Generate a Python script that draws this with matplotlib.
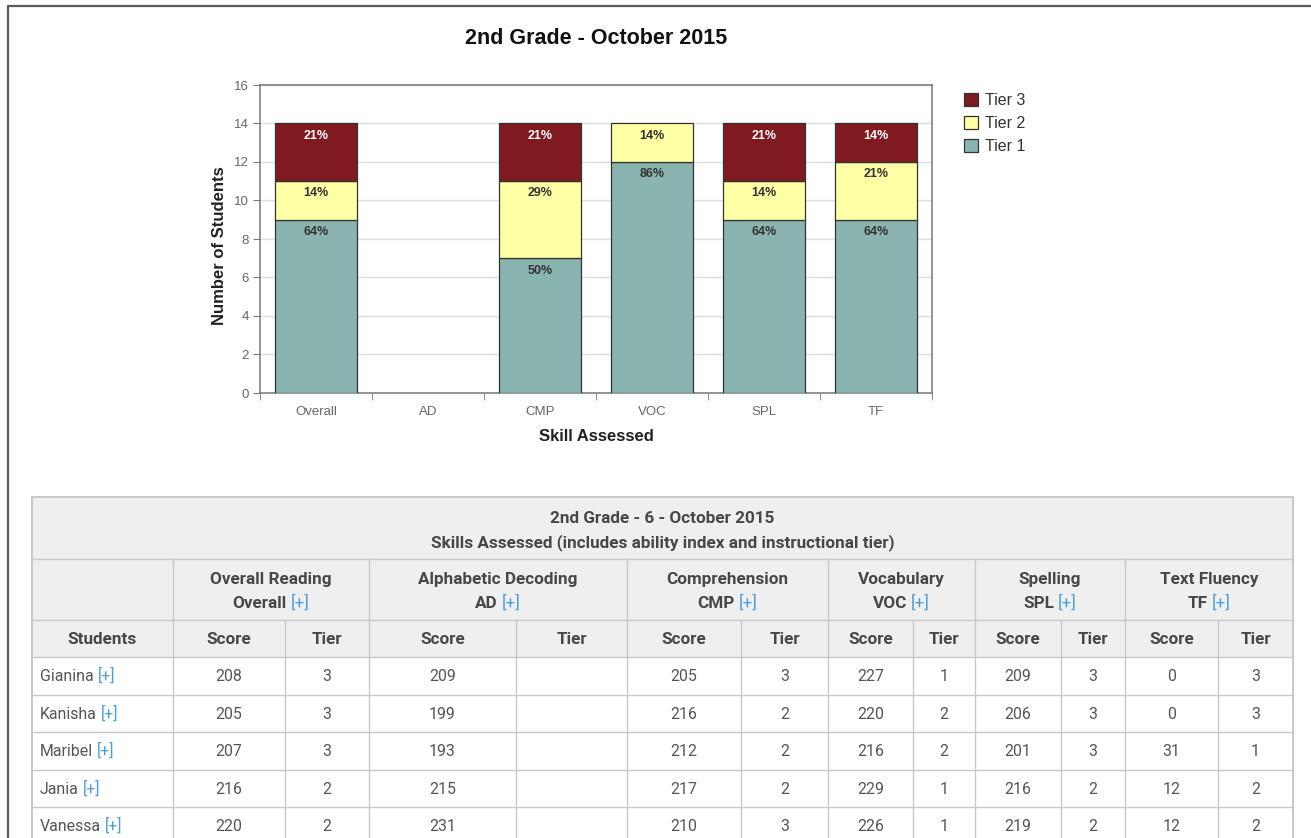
import matplotlib
matplotlib.use('Agg')
import matplotlib.pyplot as plt
from matplotlib.patches import Rectangle
from matplotlib.lines import Line2D
import numpy as np

# ---- chart data ----
skills = ['Overall', 'AD', 'CMP', 'VOC', 'SPL', 'TF']
tier1 = [9, 0, 7, 12, 9, 9]
tier2 = [2, 0, 4, 2, 2, 3]
tier3 = [3, 0, 3, 0, 3, 2]
tier_names = ['Tier 1', 'Tier 2', 'Tier 3']
chart_title = '2nd Grade - October 2015'

# ---- table data ----
table_title = '2nd Grade - 6 - October 2015'
table_subtitle = 'Skills Assessed (includes ability index and instructional tier)'
skill_names = ['Overall Reading', 'Alphabetic Decoding', 'Comprehension',
               'Vocabulary', 'Spelling', 'Text Fluency']
skill_codes = ['Overall', 'AD', 'CMP', 'VOC', 'SPL', 'TF']
students = ['Gianina', 'Kanisha', 'Maribel', 'Jania', 'Vanessa']
overall_score = [208, 205, 207, 216, 220]
overall_tier = [3, 3, 3, 2, 2]
ad_score = [209, 199, 193, 215, 231]
ad_tier = ['', '', '', '', '']
cmp_score = [205, 216, 212, 217, 210]
cmp_tier = [3, 2, 2, 2, 3]
voc_score = [227, 220, 216, 229, 226]
voc_tier = [1, 2, 2, 1, 1]
spl_score = [209, 206, 201, 216, 219]
spl_tier = [3, 3, 3, 2, 2]
tf_score = [0, 0, 31, 12, 12]
tf_tier = [3, 3, 1, 2, 2]

W, H = 1311, 838
fig = plt.figure(figsize=(W / 100, H / 100), dpi=100)
fig.patch.set_facecolor('white')

# full-figure axes in pixel units for the page border and the table
tab = fig.add_axes([0, 0, 1, 1])
tab.set_xlim(0, W)
tab.set_ylim(H, 0)
tab.axis('off')

tab.add_line(Line2D([7.5, 7.5, W], [H, 6, 6], color='#5a5a5a', lw=1.6))

# ---- bar chart ----
ax = fig.add_axes([260 / W, (H - 393) / H, 672 / W, 308 / H])
x = np.arange(len(skills))
cols = ['#8ab4b0', '#ffffa6', '#7f1a20']
txtcols = ['#333333', '#333333', 'white']
series = [np.array(tier1), np.array(tier2), np.array(tier3)]
totals = series[0] + series[1] + series[2]
bottom = np.zeros(len(skills))
handles = []
for vals, c, tc, name in zip(series, cols, txtcols, tier_names):
    bars = ax.bar(x, vals, 0.735, bottom=bottom, color=c, edgecolor='#333333',
                  linewidth=0.9, zorder=3, label=name)
    handles.append(bars)
    for p, v in zip(bars, vals):
        if v == 0:
            p.set_visible(False)
    for xi, v, b, t in zip(x, vals, bottom, totals):
        if v > 0:
            ax.annotate('%d%%' % round(100.0 * v / t), (xi, b + v),
                        xytext=(0, -4.5), textcoords='offset points',
                        ha='center', va='top', fontsize=9, fontweight='bold',
                        color=tc, family='Liberation Sans', zorder=4)
    bottom = bottom + vals

ax.set_xlim(-0.5, 5.5)
ax.set_ylim(0, 16)
ax.set_yticks(range(0, 17, 2))
ax.grid(axis='y', color='#dddddd', lw=1, zorder=0)
ax.set_axisbelow(True)
for s in ax.spines.values():
    s.set_color('#777777')
    s.set_linewidth(1.1)
ax.set_xticks(x)
ax.set_xticklabels(skills)
ax.set_xticks(np.arange(-0.5, 6, 1), minor=True)
ax.tick_params(axis='x', which='major', length=0, pad=9, labelsize=9.5,
               labelcolor='#666666')
ax.tick_params(axis='x', which='minor', length=5, color='#777777')
ax.tick_params(axis='y', length=5, color='#777777', labelsize=9.5,
               labelcolor='#666666', pad=3)
for lab in ax.get_xticklabels() + ax.get_yticklabels():
    lab.set_family('Liberation Sans')

fig.text(596 / W, 1 - 38 / H, chart_title, ha='center', va='center',
         fontsize=15.5, fontweight='bold', family='Liberation Sans', color='#111111')
fig.text(220 / W, 1 - 246 / H, 'Number of Students', rotation=90, ha='center',
         va='center', fontsize=12, fontweight='bold', family='Liberation Sans',
         color='#222222')
fig.text(596 / W, 1 - 436 / H, 'Skill Assessed', ha='center', va='center',
         fontsize=12, fontweight='bold', family='Liberation Sans', color='#222222')

leg = fig.legend(handles[::-1], tier_names[::-1], loc='upper left',
                 bbox_to_anchor=(964 / W, 1 - 93 / H), frameon=False,
                 borderpad=0, borderaxespad=0,
                 handlelength=0.85, handleheight=0.85, labelspacing=0.5,
                 handletextpad=0.45, prop={'family': 'Liberation Sans', 'size': 11.5})
for t in leg.get_texts():
    t.set_color('#333333')

# ---- table ----
r = fig.canvas.get_renderer()
line_c = '#c8c8c8'
head_c = '#474747'
body_c = '#555555'
blue = '#4a9fd8'
font = 'Roboto'

left, right = 32, 1293
top, r1, r2, r3 = 497, 559, 620, 657
row_h = 37.5
edges = [32, 173, 285, 369, 516, 627, 741, 828, 913, 975, 1061, 1125, 1218, 1293]
group_edges = [173, 369, 627, 828, 975, 1125]
bottom_y = H + 10

tab.add_patch(Rectangle((left, top), right - left, r3 - top, fc='#efefef', ec='none'))


def hline(y, x0=left, x1=right, lw=1.0):
    tab.add_line(Line2D([x0, x1], [y, y], color=line_c, lw=lw))


def vline(xp, y0, y1, lw=1.0):
    tab.add_line(Line2D([xp, xp], [y0, y1], color=line_c, lw=lw))


hline(top, lw=1.4)
for yy in [r1, r2, r3]:
    hline(yy)
for i in range(1, len(students) + 1):
    hline(r3 + i * row_h)
vline(left, top, bottom_y, lw=1.4)
vline(right, top, bottom_y, lw=1.4)
for e in group_edges:
    vline(e, r1, r2)
for e in edges[1:-1]:
    vline(e, r2, bottom_y)


def text_width(s, **kw):
    t = tab.text(0, 0, s, **kw)
    w = t.get_window_extent(renderer=r).width
    t.remove()
    return w


def two_tone(xp, yc, main, extra, center, main_kw, extra_kw, gap=4, base=5):
    w1 = text_width(main, **main_kw)
    w2 = text_width(extra, **extra_kw)
    x0 = xp - (w1 + gap + w2) / 2 if center else xp
    tab.text(x0, yc + base, main, ha='left', va='baseline', **main_kw)
    tab.text(x0 + w1 + gap, yc + base, extra, ha='left', va='baseline', **extra_kw)


hkw = dict(family=font, fontsize=12.3, fontweight='bold', color=head_c)
hpkw = dict(family=font, fontsize=12.3, color=blue)
bkw = dict(family=font, fontsize=11.4, color=body_c)
pkw = dict(family=font, fontsize=11.4, color=blue)
hb = 6
bb = 5.5

cx = (left + right) / 2
tab.text(cx, 517 + hb, table_title, ha='center', va='baseline', **hkw)
tab.text(cx, 541 + hb, table_subtitle, ha='center', va='baseline', **hkw)

for i, (nm, code) in enumerate(zip(skill_names, skill_codes)):
    gx = (group_edges[i] + (group_edges[i + 1] if i + 1 < len(group_edges) else right)) / 2
    tab.text(gx, 578 + hb, nm, ha='center', va='baseline', **hkw)
    two_tone(gx, 602, code, '[+]', True, hkw, hpkw, gap=4, base=hb)

tab.text((edges[0] + edges[1]) / 2, 638 + hb, 'Students', ha='center', va='baseline', **hkw)
for j in range(1, len(edges) - 1):
    lab = 'Score' if j % 2 == 1 else 'Tier'
    tab.text((edges[j] + edges[j + 1]) / 2, 638 + hb, lab, ha='center', va='baseline', **hkw)

columns = [overall_score, overall_tier, ad_score, ad_tier, cmp_score, cmp_tier,
           voc_score, voc_tier, spl_score, spl_tier, tf_score, tf_tier]
for i, st in enumerate(students):
    yc = r3 + (i + 0.5) * row_h
    two_tone(40, yc, st, '[+]', False, bkw, pkw, gap=4, base=bb)
    for j, col in enumerate(columns):
        tab.text((edges[j + 1] + edges[j + 2]) / 2, yc + bb, str(col[i]),
                 ha='center', va='baseline', **bkw)

fig.savefig('out.png', dpi=100)
